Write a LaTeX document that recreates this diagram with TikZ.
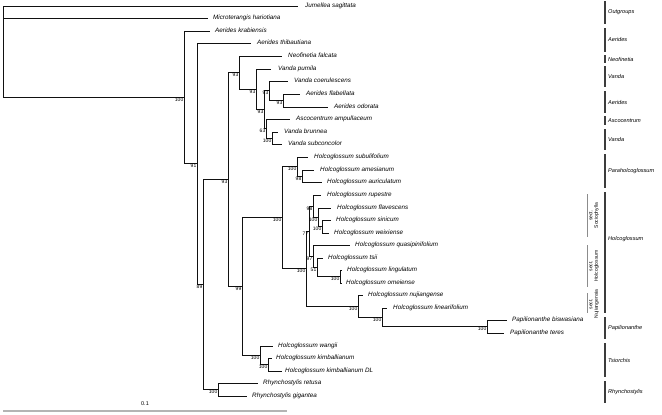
\documentclass[tikz,border=0pt]{standalone}
\usepackage{fontspec}
\setmainfont{Liberation Sans}
\usepackage{xcolor}
\usepackage{tikz}
\usetikzlibrary{positioning}
\definecolor{treeblack}{HTML}{111111}
\definecolor{bargray}{HTML}{3C3C3C}
\definecolor{sectgray}{HTML}{8C8C8C}
\definecolor{scalegray}{HTML}{B4B4B4}

\begin{document}
\begin{tikzpicture}[x=1pt,y=-1pt]

\tikzset{
branch/.style={draw=treeblack,line width=0.7pt},
taxon/.style={inner sep=0pt,text height=4.6pt,text depth=1.3pt,font=\fontsize{6.3}{7}\selectfont\itshape},
support/.style={anchor=north east,inner sep=0.5pt,font=\fontsize{5}{5}\selectfont},
cladebar/.style={draw=bargray,line width=1.8pt},
clade/.style={anchor=west,inner sep=0pt,font=\fontsize{5.6}{6}\selectfont\itshape},
sectbar/.style={draw=sectgray,line width=1pt},
sectname/.style={rotate=90,align=center,inner sep=0pt,font=\fontsize{5}{5.4}\selectfont}
}

\useasboundingbox (0,0) rectangle (662,415);

% internal nodes
\coordinate (root) at (3,51.5);
\coordinate (A) at (184,97.2);
\coordinate (B) at (197,163.5);
\coordinate (C) at (203,284);
\coordinate (D) at (228,179);
\coordinate (E) at (239,72.6);
\coordinate (F) at (256,89.3);
\coordinate (G) at (264,109.6);
\coordinate (H) at (269,90.75);
\coordinate (J) at (283,100.5);
\coordinate (I) at (266,128.5);
\coordinate (K) at (272,138);
\coordinate (M) at (242,286);
\coordinate (O) at (282,217.5);
\coordinate (P) at (297,166.5);
\coordinate (Q) at (302,176);
\coordinate (Y) at (306,268.5);
\coordinate (X) at (309,231);
\coordinate (T) at (313,206);
\coordinate (R) at (318,217);
\coordinate (S) at (322,226.5);
\coordinate (W) at (313,256);
\coordinate (V) at (317,267);
\coordinate (U) at (340,276.5);
\coordinate (Z) at (358,306);
\coordinate (Zb) at (382,317);
\coordinate (Pap) at (487,326.5);
\coordinate (Ts) at (260,355);
\coordinate (Tk) at (268,364.5);
\coordinate (Rh) at (218,389.5);

% tips
\coordinate (jum) at (298,6);
\coordinate (mic) at (208,18);
\coordinate (kra) at (210,31);
\coordinate (thi) at (251,43);
\coordinate (neo) at (282,56);
\coordinate (pum) at (271,69);
\coordinate (coe) at (288,81);
\coordinate (fla) at (300,94);
\coordinate (odo) at (328,107);
\coordinate (amp) at (290,119);
\coordinate (bru) at (278,132);
\coordinate (sbc) at (282,144);
\coordinate (sbf) at (308,157);
\coordinate (ame) at (314,170);
\coordinate (aur) at (322,182);
\coordinate (rup) at (321,195);
\coordinate (flv) at (331,208);
\coordinate (sin) at (331,220);
\coordinate (wei) at (329,233);
\coordinate (qua) at (350,245);
\coordinate (tsi) at (323,258);
\coordinate (lin) at (342,270);
\coordinate (ome) at (342,283);
\coordinate (nuj) at (363,295);
\coordinate (lfo) at (387,308);
\coordinate (bis) at (507,320);
\coordinate (ter) at (504,333);
\coordinate (wan) at (273,346);
\coordinate (kim) at (272,358);
\coordinate (kdl) at (282,371);
\coordinate (ret) at (258,383);
\coordinate (gig) at (247,396);

% branches
\draw[branch] (root) |- (jum);
\draw[branch] (root) |- (mic);
\draw[branch] (root) |- (A);
\draw[branch] (A) |- (kra);
\draw[branch] (A) |- (B);
\draw[branch] (B) |- (thi);
\draw[branch] (B) |- (C);
\draw[branch] (C) |- (D);
\draw[branch] (C) |- (Rh);
\draw[branch] (D) |- (E);
\draw[branch] (D) |- (M);
\draw[branch] (E) |- (neo);
\draw[branch] (E) |- (F);
\draw[branch] (F) |- (pum);
\draw[branch] (F) |- (G);
\draw[branch] (G) |- (H);
\draw[branch] (G) |- (I);
\draw[branch] (H) |- (coe);
\draw[branch] (H) |- (J);
\draw[branch] (J) |- (fla);
\draw[branch] (J) |- (odo);
\draw[branch] (I) |- (amp);
\draw[branch] (I) |- (K);
\draw[branch] (K) |- (bru);
\draw[branch] (K) |- (sbc);
\draw[branch] (M) |- (O);
\draw[branch] (M) |- (Ts);
\draw[branch] (O) |- (P);
\draw[branch] (O) |- (Y);
\draw[branch] (P) |- (sbf);
\draw[branch] (P) |- (Q);
\draw[branch] (Q) |- (ame);
\draw[branch] (Q) |- (aur);
\draw[branch] (Y) |- (X);
\draw[branch] (Y) |- (Z);
\draw[branch] (X) |- (T);
\draw[branch] (X) |- (W);
\draw[branch] (T) |- (rup);
\draw[branch] (T) |- (R);
\draw[branch] (R) |- (flv);
\draw[branch] (R) |- (S);
\draw[branch] (S) |- (sin);
\draw[branch] (S) |- (wei);
\draw[branch] (W) |- (qua);
\draw[branch] (W) |- (V);
\draw[branch] (V) |- (tsi);
\draw[branch] (V) |- (U);
\draw[branch] (U) |- (lin);
\draw[branch] (U) |- (ome);
\draw[branch] (Z) |- (nuj);
\draw[branch] (Z) |- (Zb);
\draw[branch] (Zb) |- (lfo);
\draw[branch] (Zb) |- (Pap);
\draw[branch] (Pap) |- (bis);
\draw[branch] (Pap) |- (ter);
\draw[branch] (Ts) |- (wan);
\draw[branch] (Ts) |- (Tk);
\draw[branch] (Tk) |- (kim);
\draw[branch] (Tk) |- (kdl);
\draw[branch] (Rh) |- (ret);
\draw[branch] (Rh) |- (gig);

% taxon names
\node[taxon,right=7pt of jum] (jumL) {Jumellea sagittata};
\node[taxon,right=5pt of mic] (micL) {Microterangis hariotiana};
\node[taxon,right=5pt of kra] (kraL) {Aerides krabiensis};
\node[taxon,right=6pt of thi] (thiL) {Aerides thibautiana};
\node[taxon,right=6pt of neo] (neoL) {Neofinetia falcata};
\node[taxon,right=7pt of pum] (pumL) {Vanda pumila};
\node[taxon,right=6pt of coe] (coeL) {Vanda coerulescens};
\node[taxon,right=6pt of fla] (flaL) {Aerides flabellata};
\node[taxon,right=6pt of odo] (odoL) {Aerides odorata};
\node[taxon,right=6pt of amp] (ampL) {Ascocentrum ampullaceum};
\node[taxon,right=6pt of bru] (bruL) {Vanda brunnea};
\node[taxon,right=6pt of sbc] (sbcL) {Vanda subconcolor};
\node[taxon,right=6pt of sbf] (sbfL) {Holcoglossum subulifolium};
\node[taxon,right=6pt of ame] (ameL) {Holcoglossum amesianum};
\node[taxon,right=5pt of aur] (aurL) {Holcoglossum auriculatum};
\node[taxon,right=6pt of rup] (rupL) {Holcoglossum rupestre};
\node[taxon,right=6pt of flv] (flvL) {Holcoglossum flavescens};
\node[taxon,right=5pt of sin] (sinL) {Holcoglossum sinicum};
\node[taxon,right=5pt of wei] (weiL) {Holcoglossum weixiense};
\node[taxon,right=5pt of qua] (quaL) {Holcoglossum quasipinifolium};
\node[taxon,right=5pt of tsi] (tsiL) {Holcoglossum tsii};
\node[taxon,right=5pt of lin] (linL) {Holcoglossum lingulatum};
\node[taxon,right=4pt of ome] (omeL) {Holcoglossum omeiense};
\node[taxon,right=5pt of nuj] (nujL) {Holcoglossum nujiangense};
\node[taxon,right=6pt of lfo] (lfoL) {Holcoglossum linearifolium};
\node[taxon,right=5pt of bis] (bisL) {Papilionanthe biswasiana};
\node[taxon,right=6pt of ter] (terL) {Papilionanthe teres};
\node[taxon,right=5pt of wan] (wanL) {Holcoglossum wangii};
\node[taxon,right=4pt of kim] (kimL) {Holcoglossum kimballianum};
\node[taxon,right=3pt of kdl] (kdlL) {Holcoglossum kimballianum DL};
\node[taxon,right=5pt of ret] (retL) {Rhynchostylis retusa};
\node[taxon,right=5pt of gig] (gigL) {Rhynchostylis gigantea};

% support values
\node[support] (bsA) at (A) {100};
\node[support] (bsB) at (B) {91};
\node[support] (bsC) at (C) {89};
\node[support] (bsD) at (D) {93};
\node[support] (bsE) at (E) {93};
\node[support] (bsF) at (F) {93};
\node[support] (bsG) at (G) {93};
\node[support] (bsH) at (H) {93};
\node[support] (bsJ) at (J) {93};
\node[support] (bsI) at (I) {63};
\node[support] (bsK) at (K) {100};
\node[support] (bsM) at (M) {99};
\node[support] (bsO) at (O) {100};
\node[support] (bsP) at (P) {100};
\node[support] (bsQ) at (Q) {98};
\node[support] (bsY) at (Y) {100};
\node[support] (bsX) at (X) {77};
\node[support] (bsT) at (T) {98};
\node[support] (bsR) at (R) {100};
\node[support] (bsS) at (S) {100};
\node[support] (bsW) at (W) {97};
\node[support] (bsV) at (V) {51};
\node[support] (bsU) at (U) {100};
\node[support] (bsZ) at (Z) {100};
\node[support] (bsZb) at (Zb) {100};
\node[support] (bsPap) at (Pap) {100};
\node[support] (bsTs) at (Ts) {100};
\node[support] (bsTk) at (Tk) {100};
\node[support] (bsRh) at (Rh) {100};

% genus bars
\draw[cladebar] (605,1) -- (605,24);
\draw[cladebar] (605,28) -- (605,52);
\draw[cladebar] (605,55) -- (605,63);
\draw[cladebar] (605,66) -- (605,87);
\draw[cladebar] (605,91) -- (605,113);
\draw[cladebar] (605,116) -- (605,125);
\draw[cladebar] (605,129) -- (605,150);
\draw[cladebar] (605,154) -- (605,188);
\draw[cladebar] (605,192) -- (605,313);
\draw[cladebar] (605,317) -- (605,339);
\draw[cladebar] (605,343) -- (605,377);
\draw[cladebar] (605,381) -- (605,403);

\node[clade] (outg) at (608,12.5) {Outgroups};
\node[clade] (aer1) at (608,39) {Aerides};
\node[clade] (neof) at (608,59) {Neofinetia};
\node[clade] (van1) at (608,76.5) {Vanda};
\node[clade] (aer2) at (608,102) {Aerides};
\node[clade] (asco) at (608,120.5) {Ascocentrum};
\node[clade] (van2) at (608,139.5) {Vanda};
\node[clade] (parh) at (608,171) {Paraholcoglossum};
\node[clade] (holc) at (608,239) {Holcoglossum};
\node[clade] (papi) at (608,328) {Papilionanthe};
\node[clade] (tsio) at (608,360) {Tsiorchis};
\node[clade] (rhyn) at (608,392) {Rhynchostylis};

% sections of Holcoglossum
\draw[sectbar] (587,194) -- (587,237);
\draw[sectbar] (587,245) -- (587,287);
\draw[sectbar] (587,293) -- (587,313);
\node[sectname] (secSoc) at (594,215.5) {sect.\\Sociophylla};
\node[sectname] (secHol) at (594,266) {sect.\\Holcoglossum};
\node[sectname] (secNuj) at (594,304) {sect.\\Nujiangensia};

% scale
\draw[draw=scalegray,line width=1.8pt] (3,411) -- (287,411);
\node[font=\fontsize{5.5}{6}\selectfont,inner sep=0pt] (scale) at (145,404) {0.1};

\end{tikzpicture}
\end{document}
